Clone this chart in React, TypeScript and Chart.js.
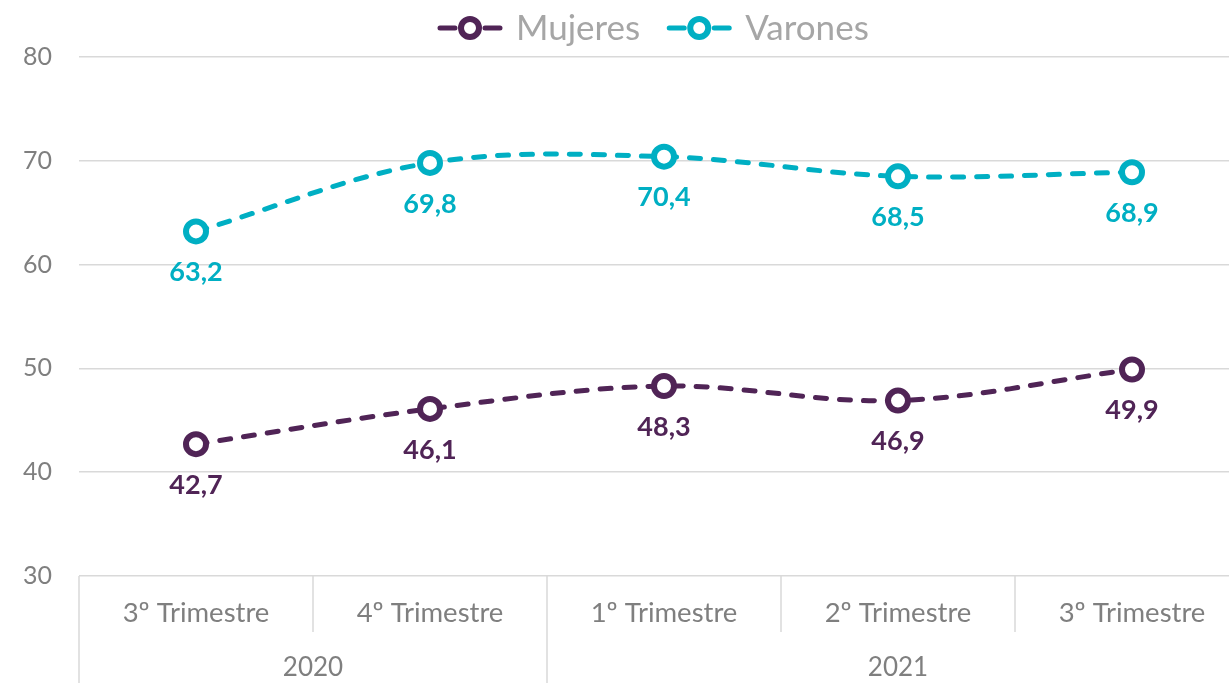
import React, { useEffect, useRef } from 'react';
import { Chart, registerables } from 'chart.js';
Chart.register(...registerables);

const quarters = ['3º Trimestre', '4º Trimestre', '1º Trimestre', '2º Trimestre', '3º Trimestre'];
const years = ['2020', '2021'];
const yearSpans = [2, 3];
const mujeres = [42.7, 46.1, 48.3, 46.9, 49.9];
const varones = [63.2, 69.8, 70.4, 68.5, 68.9];
const seriesNames = ['Mujeres', 'Varones'];
const yMin = 30;
const yMax = 80;
const yStep = 10;

const PURPLE = '#502456';
const TEAL = '#00AFC3';
const GRID = '#d9d9d9';
const TICK = '#7f7f7f';
const FONT = 'Lato, "Open Sans", sans-serif';

const fmt = (v: number) => v.toFixed(1).replace('.', ',');

const decor = {
  id: 'decor',
  afterDraw(chart: any) {
    const { ctx, chartArea } = chart;
    const n = quarters.length;
    const w = (chartArea.right - chartArea.left) / n;
    const bottom = chartArea.bottom;
    const H = chart.height;
    ctx.save();
    // dividers
    ctx.strokeStyle = GRID;
    ctx.lineWidth = 1.5;
    let acc = 0;
    const yearBounds: number[] = [0];
    yearSpans.forEach((s) => { acc += s; yearBounds.push(acc); });
    for (let k = 0; k <= n; k++) {
      const x = chartArea.left + k * w;
      const isYear = yearBounds.includes(k);
      ctx.beginPath();
      ctx.moveTo(x, bottom);
      ctx.lineTo(x, isYear ? H : bottom + 56);
      ctx.stroke();
    }
    // quarter labels
    ctx.fillStyle = TICK;
    ctx.font = `27.5px ${FONT}`;
    ctx.textAlign = 'center';
    ctx.textBaseline = 'middle';
    quarters.forEach((q, i) => {
      ctx.fillText(q, chartArea.left + (i + 0.5) * w, bottom + 37);
    });
    // year labels
    ctx.font = `26px ${FONT}`;
    years.forEach((y, i) => {
      const x0 = chartArea.left + yearBounds[i] * w;
      const x1 = chartArea.left + yearBounds[i + 1] * w;
      ctx.fillText(y, (x0 + x1) / 2, bottom + 92);
    });
    // data labels
    ctx.font = `bold 27px ${FONT}`;
    chart.data.datasets.forEach((ds: any, di: number) => {
      const meta = chart.getDatasetMeta(di);
      ctx.fillStyle = ds.borderColor;
      meta.data.forEach((pt: any, i: number) => {
        ctx.fillText(fmt(ds.data[i]), pt.x, pt.y + 41);
      });
    });
    // legend
    const items = chart.data.datasets.map((ds: any) => ({ label: ds.label, color: ds.borderColor }));
    ctx.font = `35px ${FONT}`;
    const iconW = 66;
    const gapIconText = 13;
    const gapItems = 26;
    const widths = items.map((it: any) => iconW + gapIconText + ctx.measureText(it.label).width);
    let x = 437;
    const ly = 28;
    items.forEach((it: any, i: number) => {
      ctx.strokeStyle = it.color;
      ctx.lineWidth = 5;
      ctx.lineCap = 'round';
      ctx.beginPath();
      ctx.moveTo(x + 3, ly);
      ctx.lineTo(x + 18, ly);
      ctx.moveTo(x + iconW - 18, ly);
      ctx.lineTo(x + iconW - 3, ly);
      ctx.stroke();
      ctx.beginPath();
      ctx.fillStyle = '#ffffff';
      ctx.lineWidth = 6;
      ctx.arc(x + iconW / 2, ly, 9, 0, Math.PI * 2);
      ctx.fill();
      ctx.stroke();
      ctx.fillStyle = '#a6a6a6';
      ctx.textAlign = 'left';
      ctx.textBaseline = 'middle';
      ctx.fillText(it.label, x + iconW + gapIconText, ly + 1);
      x += widths[i] + gapItems;
    });
    ctx.restore();
  },
};

export default function App() {
  const ref = useRef<HTMLCanvasElement>(null);
  useEffect(() => {
    if (!ref.current) return;
    const mk = (label: string, data: number[], color: string) => ({
      label,
      data,
      borderColor: color,
      backgroundColor: '#ffffff',
      borderWidth: 5,
      borderDash: [11, 13],
      borderCapStyle: 'round' as const,
      tension: 0.35,
      pointRadius: 10,
      pointBorderWidth: 6,
      pointBackgroundColor: '#ffffff',
      pointBorderColor: color,
      fill: false,
    });
    const chart = new Chart(ref.current, {
      type: 'line',
      data: {
        labels: quarters,
        datasets: [mk(seriesNames[0], mujeres, PURPLE), mk(seriesNames[1], varones, TEAL)],
      },
      plugins: [decor],
      options: {
        responsive: false,
        animation: false,
        layout: { autoPadding: false, padding: { top: 57, left: 0, right: 0, bottom: 0 } },
        plugins: { legend: { display: false }, tooltip: { enabled: false } },
        scales: {
          x: {
            offset: true,
            grid: { display: false },
            border: { display: false },
            ticks: { display: false },
            afterFit: (s: any) => { s.height = 107; },
          },
          y: {
            min: yMin,
            max: yMax,
            ticks: { stepSize: yStep, color: TICK, font: { family: FONT, size: 25 }, padding: 27 },
            grid: { color: GRID, lineWidth: 1.5, drawTicks: false },
            border: { display: false },
            afterFit: (s: any) => { s.width = 79; },
          },
        },
      },
    });
    return () => chart.destroy();
  }, []);
  return (
    <div style={{ position: 'fixed', left: 0, top: 0, width: 1229, height: 683, overflow: 'hidden', background: '#fff' }}>
      <canvas ref={ref} width={1249} height={683} style={{ width: 1249, height: 683, display: 'block' }} />
    </div>
  );
}
